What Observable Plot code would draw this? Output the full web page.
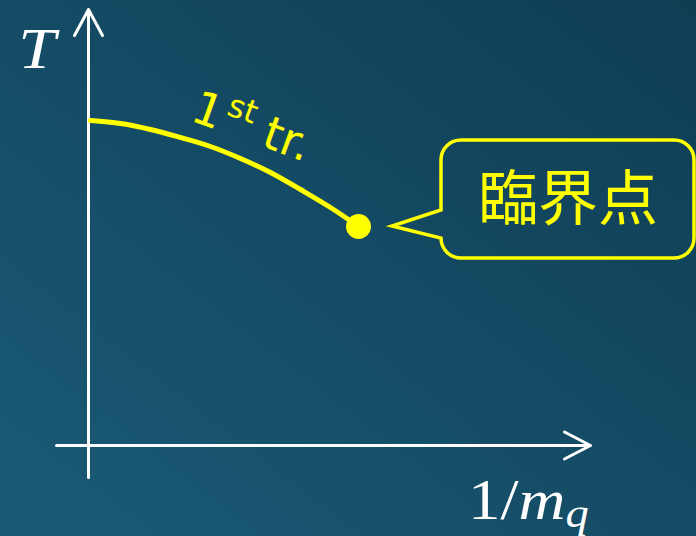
<!DOCTYPE html>
<html>
<head>
<meta charset="utf-8">
<script src="https://cdn.jsdelivr.net/npm/d3@7"></script>
<script src="https://cdn.jsdelivr.net/npm/@observablehq/plot@0.6"></script>
<style>
  html, body { margin: 0; padding: 0; background: #134a63; }
  #chart { width: 696px; height: 536px; background: linear-gradient(to bottom left, #0f3d54 0%, #144a63 45%, #1a5a76 100%); overflow: hidden; }
  #chart svg { display: block; background: transparent; }
</style>
</head>
<body>
<div id="chart"></div>
<script>
// ---- data (arbitrary units: origin at axis intersection) ----
const curveX = [0.02, 0.32, 0.62, 0.92, 1.22, 1.52, 1.82, 2.12, 2.42, 2.70];
const curveY = [3.25, 3.22, 3.16, 3.08, 2.99, 2.87, 2.73, 2.56, 2.38, 2.19];
const criticalX = [2.70];
const criticalY = [2.19];

const yAxisX = [0, 0];
const yAxisY = [-0.32, 4.36];
const xAxisX = [-0.32, 5.02];
const xAxisY = [0, 0];
const yHeadX = [-0.14, 0, 0.14];
const yHeadY = [4.10, 4.36, 4.10];
const xHeadX = [4.76, 5.02, 4.76];
const xHeadY = [0.135, 0, -0.135];

// speech bubble (data units)
const bubbleLeft = 3.53, bubbleRight = 6.06, bubbleTop = 3.05, bubbleBottom = 1.87;
const tailTipX = [3.04], tailTipY = [2.19];
const tailJoinY = [2.35, 2.07];
const bubbleText = ["臨界点"];
const bubbleTextX = [4.795];
const bubbleTextY = [2.45];

// labels
const yLabel = ["T"];
const yLabelPos = [-0.51, 3.77];
const xLabelParts = ["1/", "m", "q"];
const xLabelPos = [3.80, -0.74];
const lineLabelParts = ["1", "st", "tr."];
const lineLabelPos = [1.01, 3.25];

const yellow = "#ffff00";
const white = "#ffffff";

const idx = d3.range(curveX.length);

function bubbleMark(index, {x, y}) {
  const L = x(bubbleLeft), R = x(bubbleRight), T = y(bubbleTop), B = y(bubbleBottom);
  const r = 20;
  const j1 = y(tailJoinY[0]), j2 = y(tailJoinY[1]);
  const tx = x(tailTipX[0]), ty = y(tailTipY[0]);
  const p = d3.path();
  p.moveTo(L, j1);
  p.lineTo(L, T + r);
  p.arcTo(L, T, L + r, T, r);
  p.lineTo(R - r, T);
  p.arcTo(R, T, R, T + r, r);
  p.lineTo(R, B - r);
  p.arcTo(R, B, R - r, B, r);
  p.lineTo(L + r, B);
  p.arcTo(L, B, L, B - r, r);
  p.lineTo(L, j2);
  p.lineTo(tx, ty);
  p.closePath();
  const g = d3.create("svg:g");
  g.append("path").attr("d", p.toString())
    .attr("fill", "none").attr("stroke", yellow).attr("stroke-width", 3.5)
    .attr("stroke-linejoin", "miter");
  return g.node();
}

function labelsMark(index, {x, y}) {
  const g = d3.create("svg:g");
  // T
  g.append("text")
    .attr("transform", `translate(${x(yLabelPos[0])},${y(yLabelPos[1])}) scale(1.2,1)`)
    .attr("text-anchor", "middle")
    .attr("font-family", "Liberation Serif")
    .attr("font-style", "italic")
    .attr("font-size", 56)
    .attr("fill", white)
    .text(yLabel[0]);
  // 1/m_q
  const t = g.append("text")
    .attr("transform", `translate(${x(xLabelPos[0])},${y(xLabelPos[1])}) scale(1.16,1)`)
    .attr("text-anchor", "start")
    .attr("font-family", "Liberation Serif")
    .attr("font-size", 56)
    .attr("fill", white);
  t.append("tspan").text(xLabelParts[0]);
  t.append("tspan").attr("font-style", "italic").text(xLabelParts[1]);
  t.append("tspan").attr("font-style", "italic").attr("font-size", 40).attr("dy", 8).text(xLabelParts[2]);
  // 1st tr.
  const s = g.append("text")
    .attr("transform", `translate(${x(lineLabelPos[0])},${y(lineLabelPos[1])}) rotate(20)`)
    .attr("text-anchor", "start")
    .attr("font-family", "DejaVu Sans")
    .attr("font-size", 46)
    .attr("fill", yellow);
  s.append("tspan").text(lineLabelParts[0]);
  s.append("tspan").attr("font-size", 32).attr("dx", 3).attr("dy", -18).text(lineLabelParts[1]);
  s.append("tspan").attr("dx", 14).attr("dy", 18).text(lineLabelParts[2]);
  return g.node();
}

const chart = Plot.plot({
  width: 696,
  height: 536,
  margin: 0,
  x: {domain: [-0.88, 6.08], axis: null},
  y: {domain: [-0.91, 4.45], axis: null},
  style: {background: "transparent", overflow: "visible"},
  marks: [
    Plot.line(d3.range(2), {x: i => yAxisX[i], y: i => yAxisY[i], stroke: white, strokeWidth: 3}),
    Plot.line(d3.range(2), {x: i => xAxisX[i], y: i => xAxisY[i], stroke: white, strokeWidth: 3}),
    Plot.line(d3.range(3), {x: i => yHeadX[i], y: i => yHeadY[i], stroke: white, strokeWidth: 3, strokeLinejoin: "miter"}),
    Plot.line(d3.range(3), {x: i => xHeadX[i], y: i => xHeadY[i], stroke: white, strokeWidth: 3, strokeLinejoin: "miter"}),
    Plot.line(idx, {x: i => curveX[i], y: i => curveY[i], stroke: yellow, strokeWidth: 5, curve: "natural"}),
    Plot.dot(d3.range(1), {x: i => criticalX[i], y: i => criticalY[i], r: 12.5, fill: yellow, stroke: "none"}),
    bubbleMark,
    Plot.text(d3.range(1), {x: i => bubbleTextX[i], y: i => bubbleTextY[i], text: i => bubbleText[i],
      fill: yellow, fontSize: 60, fontFamily: "Noto Sans CJK JP", textAnchor: "middle"}),
    labelsMark
  ]
});
document.getElementById("chart").appendChild(chart);
</script>
</body>
</html>
